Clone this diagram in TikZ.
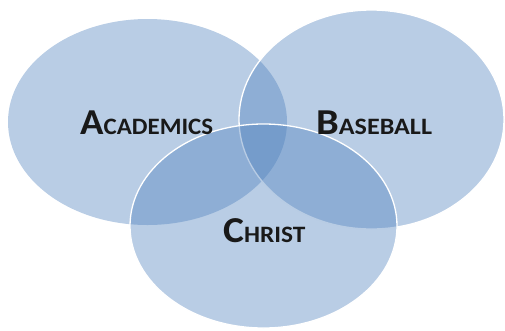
\documentclass[tikz,border=0pt]{standalone}
\usepackage{fontspec}
\setmainfont{Carlito}
\usepackage{tikz}
\usetikzlibrary{shapes.geometric}
\definecolor{setblue}{RGB}{79,129,189}
\newcommand{\smallcapslabel}[3][1.08]{\scalebox{#1}[1]{\bfseries\fontsize{36.5}{36}\selectfont #2\fontsize{23.5}{23.5}\selectfont #3}}

\begin{document}
\begin{tikzpicture}[x=1pt, y=-1pt,
                    setnode/.style={ellipse, fill=setblue, fill opacity=0.4, inner sep=0pt, outer sep=0pt},
                    setnode_outlined/.style={setnode, draw=white, draw opacity=1, line width=1.3pt},
                    labelnode/.style={anchor=base west, inner sep=0pt, text=black!90},
                   ]
    \useasboundingbox (0,0) rectangle (505,330);
    %   %Sets
    \node[setnode]          (academics) at (147.5,122)  [minimum width=279pt, minimum height=206pt] {};
    \node[setnode_outlined] (baseball)  at (371.5,119.5) [minimum width=265pt, minimum height=219pt] {};
    \node[setnode_outlined] (christ)    at (263.5,226)  [minimum width=267pt, minimum height=204pt] {};

    %   %Labels
    \node[labelnode] (academics_label) at (80,134)  {\smallcapslabel[1.06]{A}{CADEMICS}};
    \node[labelnode] (baseball_label)  at (316,134) {\smallcapslabel[1.11]{B}{ASEBALL}};
    \node[labelnode] (christ_label)    at (223,242) {\smallcapslabel[1.08]{C}{HRIST}};
\end{tikzpicture}
\end{document}
